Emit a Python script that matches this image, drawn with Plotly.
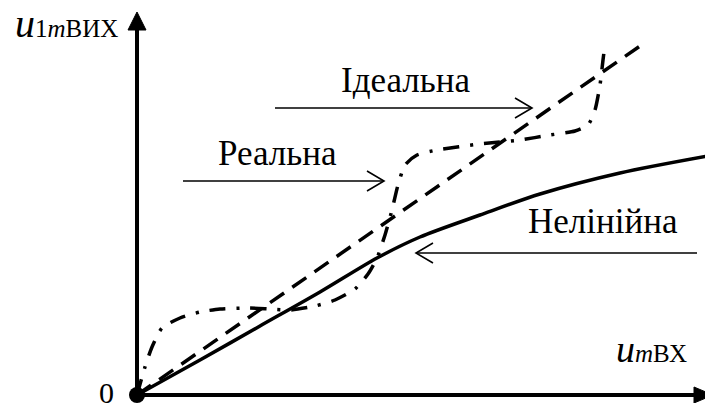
import plotly.graph_objects as go

# Data (units: arbitrary, origin at 0,0)
ideal_x = [0, 503]
ideal_y = [0, 349]

nonlinear_x = [0, 63, 123, 183, 240, 283, 343, 403, 483, 571]
nonlinear_y = [0, 35, 69, 103, 137, 158, 180, 201, 222, 239]

real_x = [0, 8, 15, 25, 43, 63, 83, 111, 133, 153, 178, 198, 218, 231, 240, 248,
          255, 261, 268, 280, 300, 343, 383, 413, 438, 451, 458, 463, 466, 467]
real_y = [0, 28, 48, 67, 77, 83, 86, 87, 86, 85, 89, 95, 106, 121, 137, 160,
          185, 210, 230, 240, 245, 251, 255, 260, 264, 270, 285, 310, 335, 343]

labels = ["Ідеальна", "Реальна", "Нелінійна"]

FONT = "'Liberation Serif', 'Times New Roman', 'DejaVu Serif', serif"

fig = go.Figure()

fig.add_trace(go.Scatter(x=ideal_x, y=ideal_y, mode="lines",
                         line=dict(color="black", width=3.5, dash="17px,10px"),
                         hoverinfo="skip"))
fig.add_trace(go.Scatter(x=nonlinear_x, y=nonlinear_y, mode="lines",
                         line=dict(color="black", width=3.5, shape="spline", smoothing=0.8),
                         hoverinfo="skip"))
fig.add_trace(go.Scatter(x=real_x, y=real_y, mode="lines",
                         line=dict(color="black", width=3.5, shape="spline", smoothing=0.6,
                                   dash="16px,11px,3px,11px"),
                         hoverinfo="skip"))
# origin dot
fig.add_trace(go.Scatter(x=[0], y=[0], mode="markers",
                         marker=dict(color="black", size=16), hoverinfo="skip"))

shapes = []
# axes
shapes.append(dict(type="line", x0=0, y0=0, x1=0, y1=368, line=dict(color="black", width=4)))
shapes.append(dict(type="path", path="M -9 365 L 9 365 L 0 383 Z", fillcolor="black",
                   line=dict(color="black", width=1)))
shapes.append(dict(type="line", x0=0, y0=0, x1=560, y1=0, line=dict(color="black", width=4)))
shapes.append(dict(type="path", path="M 557 -8 L 557 8 L 576 0 Z", fillcolor="black",
                   line=dict(color="black", width=1)))


def thin_arrow(x0, x1, y):
    d = 1 if x1 > x0 else -1
    shapes.append(dict(type="line", x0=x0, y0=y, x1=x1, y1=y, line=dict(color="black", width=1.6)))
    shapes.append(dict(type="path",
                       path=f"M {x1 - d*17} {y+10} L {x1} {y} L {x1 - d*17} {y-10}",
                       line=dict(color="black", width=1.6)))


thin_arrow(138, 395, 287)
thin_arrow(46, 247, 214)
thin_arrow(560, 279, 142)

annotations = [
    dict(x=268, y=315, text=labels[0], showarrow=False, font=dict(family=FONT, size=35, color="black")),
    dict(x=140, y=242, text=labels[1], showarrow=False, font=dict(family=FONT, size=35, color="black")),
    dict(x=466, y=174, text=labels[2], showarrow=False, font=dict(family=FONT, size=35, color="black")),
    dict(x=-124, y=347, xanchor="left", yanchor="bottom",
         text="<i>u</i><span style='font-size:25px'>1<i>m</i>ВИХ</span>",
         showarrow=False, font=dict(family=FONT, size=40, color="black")),
    dict(x=477, y=23, xanchor="left", yanchor="bottom",
         text="<i>u</i><span style='font-size:25px'><i>m</i>ВХ</span>",
         showarrow=False, font=dict(family=FONT, size=38, color="black")),
    dict(x=-31, y=3, text="0", showarrow=False, font=dict(family=FONT, size=30, color="black")),
]

# The page body has an 8px margin, so the figure is sized to fit the window
fig.update_layout(
    width=705, height=395,
    margin=dict(l=0, r=0, t=0, b=0),
    paper_bgcolor="white", plot_bgcolor="white",
    showlegend=False,
    xaxis=dict(range=[-129, 576], visible=False, fixedrange=True),
    yaxis=dict(range=[-8, 387], visible=False, fixedrange=True),
    shapes=shapes,
    annotations=annotations,
)

fig.write_html("out.html")
